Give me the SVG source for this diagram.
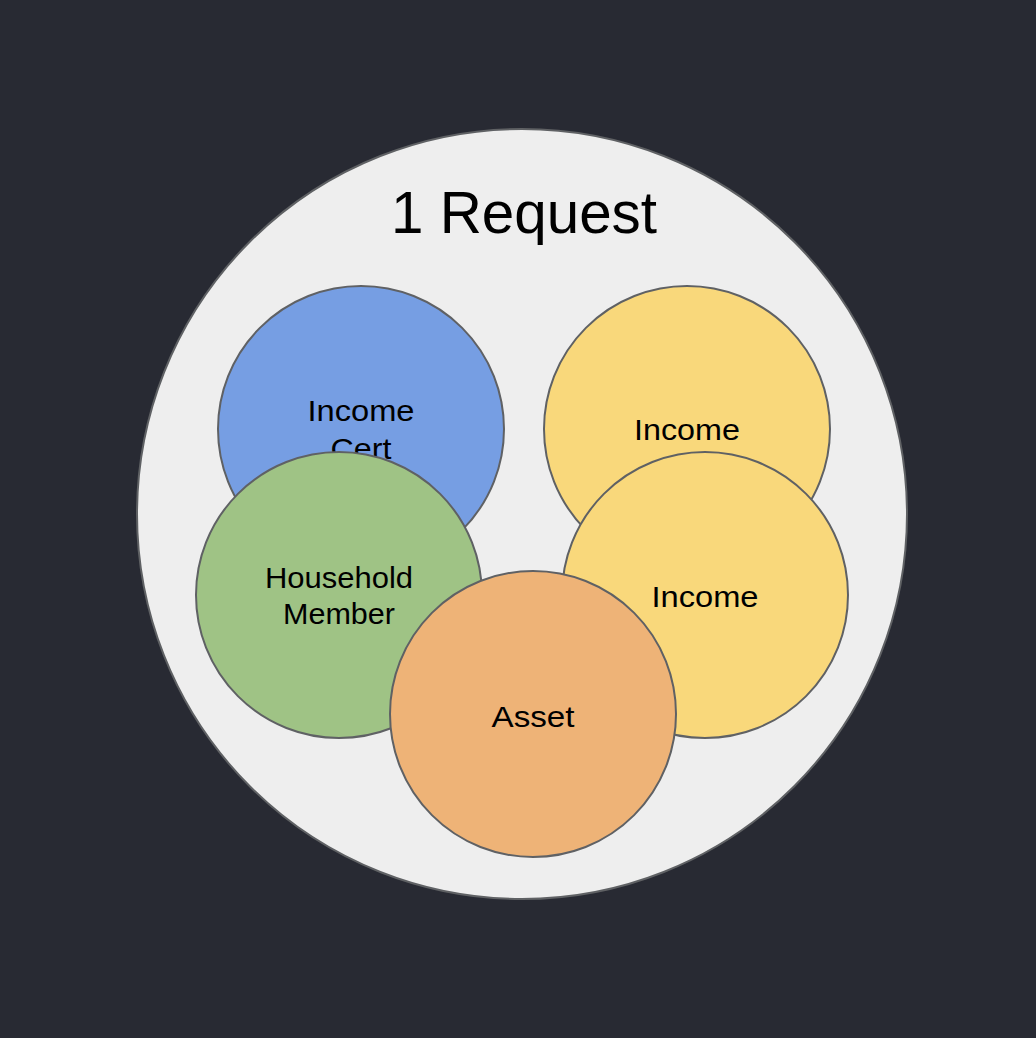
<svg xmlns="http://www.w3.org/2000/svg" width="1036" height="1038" viewBox="0 0 1036 1038">
  <style>
    .bubble { stroke: #5f6164; stroke-width: 2; }
    .label { font-family: "Liberation Sans", Arial, sans-serif; font-size: 30px; fill: #000; text-anchor: middle; }
    .title { font-family: "Liberation Sans", Arial, sans-serif; font-size: 60px; fill: #000; text-anchor: middle; }
  </style>
  <rect width="1036" height="1038" fill="#282a33"/>
  <g id="request">
    <circle cx="522" cy="514" r="385" fill="#eeeeee" class="bubble"/>
    <text class="title" x="524" y="233" textLength="266" lengthAdjust="spacingAndGlyphs">1 Request</text>
  </g>
  <g id="income-cert">
    <circle cx="361" cy="429" r="143" fill="#769ee3" class="bubble"/>
    <text class="label" x="361" y="421" textLength="107" lengthAdjust="spacingAndGlyphs">Income</text>
    <text class="label" x="361" y="459" textLength="61" lengthAdjust="spacingAndGlyphs">Cert</text>
  </g>
  <g id="income-1">
    <circle cx="687" cy="429" r="143" fill="#f9d87b" class="bubble"/>
    <text class="label" x="687" y="440" textLength="106" lengthAdjust="spacingAndGlyphs">Income</text>
  </g>
  <g id="household-member">
    <circle cx="339" cy="595" r="143" fill="#9fc385" class="bubble"/>
    <text class="label" x="339" y="588" textLength="148" lengthAdjust="spacingAndGlyphs">Household</text>
    <text class="label" x="339" y="624" textLength="112" lengthAdjust="spacingAndGlyphs">Member</text>
  </g>
  <g id="income-2">
    <circle cx="705" cy="595" r="143" fill="#f9d87b" class="bubble"/>
    <text class="label" x="705" y="607" textLength="107" lengthAdjust="spacingAndGlyphs">Income</text>
  </g>
  <g id="asset">
    <circle cx="533" cy="714" r="143" fill="#eeb377" class="bubble"/>
    <text class="label" x="533" y="727" textLength="83" lengthAdjust="spacingAndGlyphs">Asset</text>
  </g>
  <g id="connectors"/>
</svg>
